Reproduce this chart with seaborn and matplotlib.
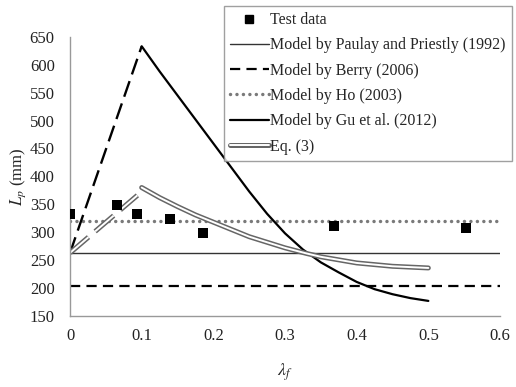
import matplotlib
matplotlib.use("Agg")
import matplotlib.pyplot as plt
import matplotlib.patheffects as pe
import seaborn as sns
import numpy as np

# ---- data ----
test_x = [0.0, 0.065, 0.094, 0.140, 0.185, 0.369, 0.552]
test_y = [333, 348, 333, 324, 299, 311, 307]

horiz_x = [0.0, 0.6]
paulay_y = [263, 263]
berry_y = [203, 203]
ho_y = [320, 320]

gu_rise_x = [0.0, 0.1]
gu_rise_y = [263, 633]
gu_x = [0.10, 0.125, 0.15, 0.175, 0.20, 0.225, 0.25, 0.275, 0.30, 0.325,
        0.35, 0.375, 0.40, 0.425, 0.45, 0.475, 0.50]
gu_y = [633, 588, 545, 502, 459, 416, 373, 333, 298, 269,
        246, 228, 211, 198, 189, 182, 177]

eq3_rise_x = [0.0, 0.094]
eq3_rise_y = [263, 366]
eq3_x = [0.10, 0.125, 0.15, 0.175, 0.20, 0.25, 0.30, 0.33, 0.35, 0.40, 0.45, 0.50]
eq3_y = [380, 362, 346, 331, 318, 292, 272, 262, 256, 245, 239, 236]

labels = ["Test data", "Model by Paulay and Priestly (1992)", "Model by Berry (2006)",
          "Model by Ho (2003)", "Model by Gu et al. (2012)", "Eq. (3)"]
xticks = [0, 0.1, 0.2, 0.3, 0.4, 0.5, 0.6]
xticklabels = ["0", "0.1", "0.2", "0.3", "0.4", "0.5", "0.6"]
yticks = list(range(150, 651, 50))

# ---- style ----
sns.set_style("white")
plt.rcParams["font.family"] = ["Liberation Serif", "DejaVu Serif"]
plt.rcParams["mathtext.fontset"] = "stix"

fig = plt.figure(figsize=(5.16, 3.87), dpi=100)
ax = fig.add_axes([0.1357, 0.1835, 0.8333, 0.7215])

double_fx = [pe.Stroke(linewidth=3.6, foreground="#666666"), pe.Normal()]

# lines
sns.lineplot(x=horiz_x, y=paulay_y, ax=ax, color="#333333", linewidth=1.0)
sns.lineplot(x=horiz_x, y=berry_y, ax=ax, color="black", linewidth=1.6,
             linestyle=(0, (4.6, 2.8)))
sns.lineplot(x=horiz_x, y=ho_y, ax=ax, color="#7a7a7a", linewidth=2.5,
             linestyle=(0, (0.01, 1.85)), dash_capstyle="round")
sns.lineplot(x=gu_rise_x, y=gu_rise_y, ax=ax, color="black", linewidth=1.7,
             linestyle=(0, (7, 3)))
sns.lineplot(x=gu_x, y=gu_y, ax=ax, color="black", linewidth=1.6)
sns.lineplot(x=eq3_rise_x, y=eq3_rise_y, ax=ax, color="white", linewidth=1.4,
             linestyle=(0, (12.5, 4.5)), path_effects=double_fx)
sns.lineplot(x=eq3_x, y=eq3_y, ax=ax, color="white", linewidth=1.4,
             path_effects=double_fx)
sns.scatterplot(x=test_x, y=test_y, ax=ax, marker="s", color="black", s=52,
                edgecolor="black", linewidth=0, zorder=5)

lines = ax.get_lines()
h_test = plt.Line2D([], [], marker="s", color="black", linestyle="none", markersize=5.5)
h_eq3 = plt.Line2D([], [], color="white", linewidth=1.4, path_effects=double_fx)
handles = [h_test, lines[0], lines[1], lines[2], lines[4], h_eq3]
leg = fig.legend(handles, labels, loc="upper left", bbox_to_anchor=(0.434, 0.985),
                 fontsize=11.5, frameon=True, fancybox=False, handlelength=2.4,
                 handletextpad=0.1, labelspacing=0.58, borderpad=0.4,
                 borderaxespad=0.0)
leg.get_frame().set_edgecolor("#888888")
leg.get_frame().set_linewidth(1.0)

ax.set_xlim(0, 0.6)
ax.set_ylim(150, 650)
ax.set_xticks(xticks)
ax.set_xticklabels(xticklabels)
ax.set_yticks(yticks)
for s in ["top", "right"]:
    ax.spines[s].set_visible(False)
for s in ["left", "bottom"]:
    ax.spines[s].set_color("#999999")
    ax.spines[s].set_linewidth(1.0)
ax.tick_params(axis="both", direction="in", length=4, width=1.0, color="#999999",
               labelsize=12, labelcolor="#222222")
ax.tick_params(axis="y", pad=11)
ax.tick_params(axis="x", pad=9)
ax.set_xlabel(r"$\lambda_f$", fontsize=13, labelpad=12)
ax.set_ylabel(r"$L_p$ (mm)", fontsize=12, labelpad=1)

fig.savefig("out.png", dpi=100)
